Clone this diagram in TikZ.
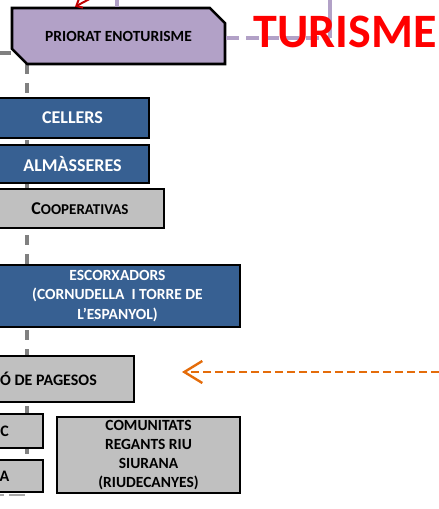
\documentclass[tikz,border=0pt]{standalone}
\usepackage{fontspec}
\setmainfont{Carlito}
\usetikzlibrary{shapes.misc, arrows.meta}

\definecolor{boxblue}{RGB}{55,96,146}
\definecolor{boxgray}{RGB}{192,192,192}
\definecolor{boxlilac}{RGB}{178,161,199}
\definecolor{linegray}{RGB}{128,128,128}
\definecolor{arroworange}{RGB}{228,108,10}
\definecolor{arrowred}{RGB}{192,0,0}

\tikzset{
  orgbox/.style={draw=black, line width=2.6pt, inner sep=0pt, align=center, font=\bfseries},
  bluebox/.style={orgbox, fill=boxblue, text=white},
  graybox/.style={orgbox, fill=boxgray, text=black},
}

\begin{document}
\begin{tikzpicture}[x=1pt, y=-1pt]

    % the page is 439 x 509, one unit per pixel
    \useasboundingbox (0,0) rectangle (439,509);
    \clip (0,0) rectangle (439,509);

    % end points of the lines that run off the page
    \coordinate (spinetop) at (27,64);
    \coordinate (spinebot) at (27,494);
    \coordinate (lilactop) at (330,0);
    \coordinate (lilacbend) at (330,38);
    \coordinate (leftstub) at (0,53);
    \coordinate (orangestart) at (439,372);
    \coordinate (orangeend) at (182,372);

    % grey dashed spine behind the boxes
    \draw[linegray, line width=4.5pt, dash pattern=on 10pt off 9pt] (spinetop) -- (spinebot);
    \draw[linegray!70, line width=2.5pt, dash pattern=on 4pt off 5pt on 16pt off 20pt] (0,495) -- (27,495);

    % Draw the top box
    \node[orgbox, fill=boxlilac, chamfered rectangle, chamfered rectangle corners={north east, south west},
          chamfered rectangle xsep=9pt, chamfered rectangle ysep=10pt,
          minimum width=213pt, minimum height=56pt, font=\bfseries\fontsize{15.5}{18}\selectfont]
          (priorat) at (118.5,36) {PRIORAT ENOTURISME};

    % lilac lines towards the upper part of the chart
    \draw[boxlilac, line width=4pt] (priorat.north -| 117,0) -- (117,0);
    \draw[boxlilac, line width=4pt, dash pattern=on 13pt off 7pt] (priorat.east |- lilacbend) -- (lilacbend);
    \draw[boxlilac, line width=4pt] (lilacbend) -- (lilactop);
    \draw[linegray, line width=3.5pt] (leftstub) -- (priorat.west |- leftstub);

    % the red arrow coming in from above
    \draw[arrowred, line width=2pt, -{Straight Barb[length=5pt, width=9pt]}] (97,-5) -- (priorat.north -| 75,0);

    \node[text=red, font=\bfseries\fontsize{48}{56}\selectfont, anchor=base] (turisme) at (345,47) {TURISME};

    % Draw the boxes along the spine
    \node[bluebox, minimum width=153pt, minimum height=40pt, font=\bfseries\fontsize{18}{21}\selectfont]
          (cellers) at (72.5,118) {CELLERS};
    \node[bluebox, minimum width=153pt, minimum height=38pt, font=\bfseries\fontsize{18}{21}\selectfont]
          (almasseres) at (72.5,164) {ALMÀSSERES};
    \node[graybox, minimum width=168pt, minimum height=39pt]
          (cooperatives) at (80,208.5) {{\fontsize{18}{21}\selectfont C}{\fontsize{15}{18}\selectfont OOPERATIVAS}};
    \node[bluebox, minimum width=245pt, minimum height=62pt, font=\bfseries\fontsize{15.5}{19.5}\selectfont]
          (escorxadors) at (117.5,296) {ESCORXADORS\\(CORNUDELLA\ \ I TORRE DE\\L’ESPANYOL)};
    \node[graybox, minimum width=171pt, minimum height=46pt, font=\bfseries\fontsize{16}{19}\selectfont]
          (pagesos) at (48.5,379) {Ó DE PAGESOS};
    \node[graybox, minimum width=77pt, minimum height=34pt, font=\bfseries\fontsize{16}{19}\selectfont]
          (boxc) at (4.5,431) {C};
    \node[graybox, minimum width=77pt, minimum height=32pt, font=\bfseries\fontsize{16}{19}\selectfont]
          (boxa) at (4.5,476) {A};
    \node[graybox, minimum width=183pt, minimum height=76pt, font=\bfseries\fontsize{15.5}{19}\selectfont]
          (comunitats) at (148.5,455) {COMUNITATS\\REGANTS RIU\\SIURANA\\(RIUDECANYES)};

    % orange dashed arrow pointing at the farmers box
    \draw[arroworange, line width=2.4pt, dash pattern=on 8pt off 4pt, -{Straight Barb[length=18pt, width=22pt]}]
          (orangestart) -- (orangeend);

\end{tikzpicture}
\end{document}
